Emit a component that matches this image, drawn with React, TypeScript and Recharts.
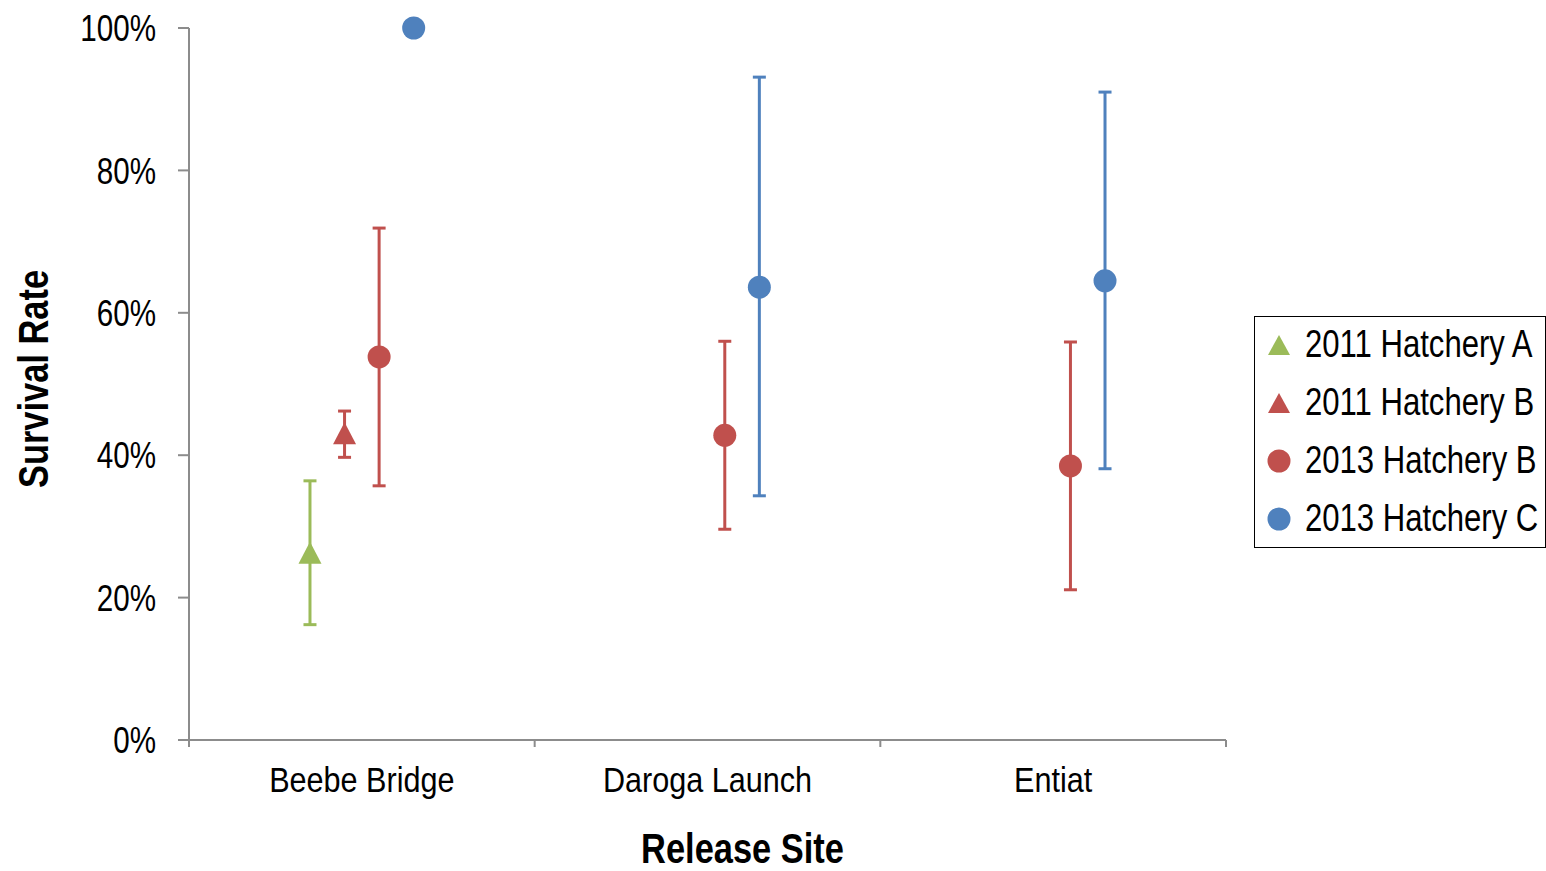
import React from 'react';
import { ComposedChart, Scatter, XAxis, YAxis, ErrorBar, Legend, Label } from 'recharts';

const FONT = "'Liberation Sans', Arial, sans-serif";
const NARROW = 0.8;

const categories = ['Beebe Bridge', 'Daroga Launch', 'Entiat'];
const seriesNames = ['2011 Hatchery A', '2011 Hatchery B', '2013 Hatchery B', '2013 Hatchery C'];
const seriesColors = ['#9BBB59', '#C0504D', '#C0504D', '#4F81BD'];
const seriesShapes = ['triangle', 'triangle', 'circle', 'circle'];
const seriesOffsets = [-0.15, -0.05, 0.05, 0.15];

const h2011ASites = ['Beebe Bridge'];
const h2011AValues = [26.3];
const h2011ALow = [16.2];
const h2011AHigh = [36.4];

const h2011BSites = ['Beebe Bridge'];
const h2011BValues = [43.1];
const h2011BLow = [39.7];
const h2011BHigh = [46.2];

const h2013BSites = ['Beebe Bridge', 'Daroga Launch', 'Entiat'];
const h2013BValues = [53.8, 42.8, 38.5];
const h2013BLow = [35.7, 29.6, 21.1];
const h2013BHigh = [71.9, 56.0, 55.9];

const h2013CSites = ['Beebe Bridge', 'Daroga Launch', 'Entiat'];
const h2013CValues = [100, 63.6, 64.5];
const h2013CLow = [100, 34.3, 38.1];
const h2013CHigh = [100, 93.1, 91.0];

const yTicks = [0, 20, 40, 60, 80, 100];

function build(sites: string[], values: number[], low: number[], high: number[], si: number) {
  return sites.map((s, i) => ({
    site: s,
    x: categories.indexOf(s) + 0.5 + seriesOffsets[si],
    y: values[i],
    err: [values[i] - low[i], high[i] - values[i]],
  }));
}

const seriesData = [
  build(h2011ASites, h2011AValues, h2011ALow, h2011AHigh, 0),
  build(h2011BSites, h2011BValues, h2011BLow, h2011BHigh, 1),
  build(h2013BSites, h2013BValues, h2013BLow, h2013BHigh, 2),
  build(h2013CSites, h2013CValues, h2013CLow, h2013CHigh, 3),
];

const xTicks: number[] = [];
for (let i = 0; i <= categories.length; i++) {
  xTicks.push(i);
  if (i < categories.length) xTicks.push(i + 0.5);
}

const makeShape = (kind: string, color: string) => (props: any) => {
  const { cx, cy } = props;
  if (cx == null || cy == null) return <g />;
  if (kind === 'triangle') {
    const w = 23;
    const h = 22;
    return (
      <polygon
        points={`${cx},${cy - h / 2} ${cx + w / 2},${cy + h / 2} ${cx - w / 2},${cy + h / 2}`}
        fill={color}
      />
    );
  }
  return <circle cx={cx} cy={cy} r={11.5} fill={color} />;
};

const NarrowText = ({ x, y, anchor, size, bold, rotate, children, dy, scale }: any) => (
  <text
    transform={`translate(${x} ${y})${rotate ? ` rotate(${rotate})` : ''} scale(${scale ?? NARROW} 1)`}
    x={0}
    y={0}
    dy={dy}
    textAnchor={anchor}
    fontFamily={FONT}
    fontSize={size}
    fontWeight={bold ? 'bold' : 'normal'}
    fill="#000"
  >
    {children}
  </text>
);

const XTick = (props: any) => {
  const { x, y, payload } = props;
  const v = payload.value;
  if (Number.isInteger(v)) {
    return <line x1={x} x2={x} y1={y} y2={y + 7} stroke="#8C8C8C" strokeWidth={2} />;
  }
  const label = categories[Math.floor(v)];
  return (
    <NarrowText x={x} y={y + 52} anchor="middle" size={36} scale={0.85}>
      {label}
    </NarrowText>
  );
};

const YTick = (props: any) => {
  const { x, y, payload } = props;
  return (
    <NarrowText x={x} y={y} anchor="end" size={37} dy="0.355em">
      {`${payload.value}%`}
    </NarrowText>
  );
};

const LegendContent = () => (
  <div
    style={{
      width: 292,
      height: 232,
      boxSizing: 'border-box',
      border: '1.5px solid #000',
      background: '#fff',
      fontFamily: FONT,
      fontSize: 38,
      color: '#000',
    }}
  >
    {seriesNames.map((n, i) => (
      <div key={n} style={{ height: 58, position: 'relative' }}>
        <svg width={28} height={28} style={{ position: 'absolute', left: 10, top: 14 }}>
          {seriesShapes[i] === 'triangle' ? (
            <polygon points="14,4 25,24 3,24" fill={seriesColors[i]} />
          ) : (
            <circle cx={14} cy={14} r={11.5} fill={seriesColors[i]} />
          )}
        </svg>
        <span
          style={{
            position: 'absolute',
            left: 50,
            top: -2,
            lineHeight: '58px',
            whiteSpace: 'nowrap',
            transform: 'scaleX(0.818)',
            transformOrigin: 'left center',
          }}
        >
          {n}
        </span>
      </div>
    ))}
  </div>
);

export default function App() {
  return (
    <div style={{ position: 'absolute', left: 0, top: 0, background: '#fff' }}>
      <ComposedChart width={1546} height={871} margin={{ top: 28, right: 320, left: 0, bottom: 0 }}>
        <XAxis
          type="number"
          dataKey="x"
          domain={[0, categories.length]}
          ticks={xTicks}
          interval={0}
          tickLine={false}
          tickSize={0}
          tickMargin={0}
          tick={<XTick />}
          height={131}
          axisLine={{ stroke: '#8C8C8C', strokeWidth: 2 }}
        >
          <Label
            content={(p: any) => {
              const vb = p.viewBox;
              return (
                <NarrowText x={vb.x + vb.width / 2 + 35} y={vb.y + vb.height - 8} anchor="middle" size={42} bold scale={0.82}>
                  Release Site
                </NarrowText>
              );
            }}
          />
        </XAxis>
        <YAxis
          type="number"
          dataKey="y"
          domain={[0, 100]}
          ticks={yTicks}
          width={189}
          tickSize={11}
          tickMargin={22}
          tick={<YTick />}
          tickLine={{ stroke: '#8C8C8C', strokeWidth: 2 }}
          axisLine={{ stroke: '#8C8C8C', strokeWidth: 2 }}
        >
          <Label
            content={(p: any) => {
              const vb = p.viewBox;
              const cx = 48;
              const cy = vb.y + vb.height / 2 - 5;
              return (
                <NarrowText x={cx} y={cy} rotate={-90} anchor="middle" size={42} bold scale={0.82}>
                  Survival Rate
                </NarrowText>
              );
            }}
          />
        </YAxis>
        {seriesData.map((d, i) => (
          <Scatter
            key={seriesNames[i]}
            name={seriesNames[i]}
            data={d}
            dataKey="y"
            fill={seriesColors[i]}
            isAnimationActive={false}
            shape={makeShape(seriesShapes[i], seriesColors[i])}
          >
            <ErrorBar
              dataKey="err"
              direction="y"
              width={6.5}
              strokeWidth={3}
              stroke={seriesColors[i]}
              isAnimationActive={false}
            />
          </Scatter>
        ))}
        <Legend
          layout="horizontal"
          verticalAlign="middle"
          align="center"
          wrapperStyle={{ left: 1254, top: 316, width: 292, height: 232 }}
          content={<LegendContent />}
        />
      </ComposedChart>
    </div>
  );
}
